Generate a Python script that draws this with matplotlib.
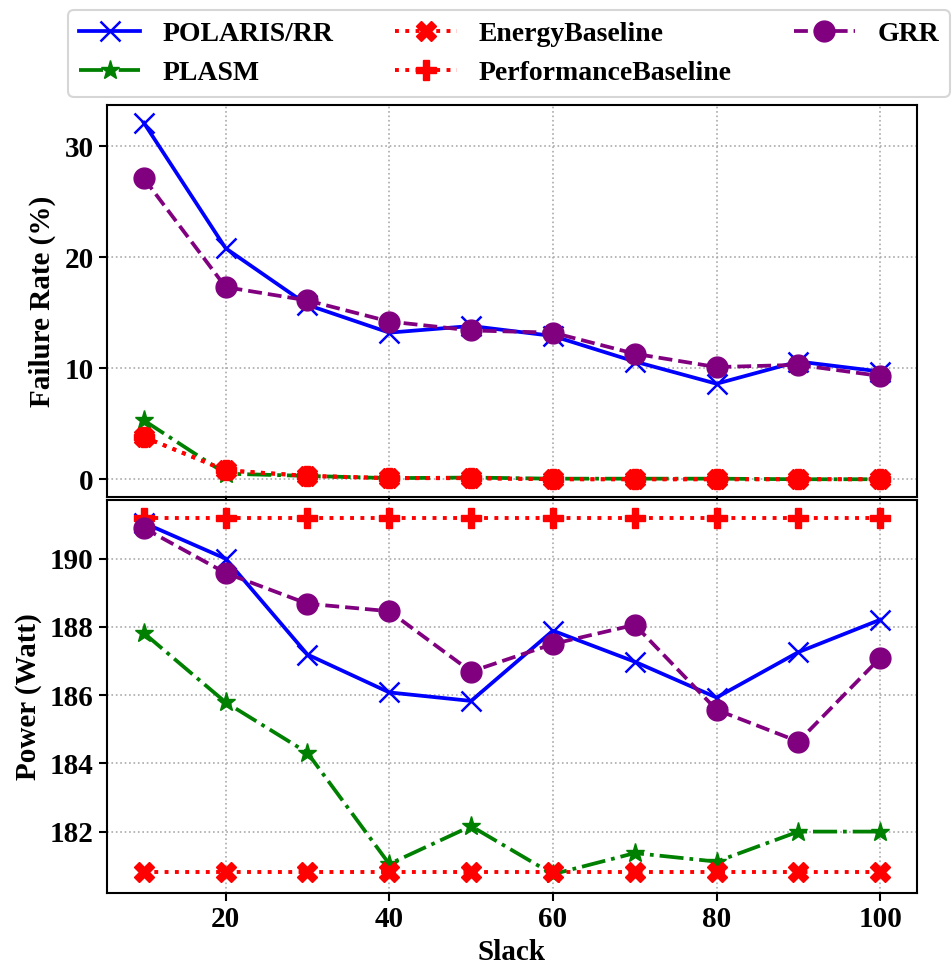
import matplotlib
matplotlib.use("Agg")
import matplotlib.pyplot as plt

plt.rcParams['font.family'] = ['Liberation Serif', 'DejaVu Serif']
plt.rcParams['font.weight'] = 'bold'

slack = [10, 20, 30, 40, 50, 60, 70, 80, 90, 100]

fail_polaris = [32.1, 20.8, 15.7, 13.2, 13.8, 12.9, 10.6, 8.6, 10.6, 9.7]
fail_plasm = [5.3, 0.5, 0.3, 0.1, 0.15, 0.05, 0.05, 0.05, 0.0, 0.0]
fail_energy = [3.8, 0.8, 0.3, 0.1, 0.1, 0.0, 0.0, 0.0, 0.0, 0.0]
fail_perf = [3.8, 0.8, 0.3, 0.1, 0.1, 0.0, 0.0, 0.0, 0.0, 0.0]
fail_grr = [27.1, 17.3, 16.1, 14.2, 13.4, 13.2, 11.3, 10.1, 10.3, 9.3]

pow_polaris = [191.05, 190.0, 187.19, 186.08, 185.83, 187.89, 186.98, 185.93, 187.26, 188.21]
pow_plasm = [187.82, 185.79, 184.31, 181.05, 182.16, 180.75, 181.37, 181.12, 182.0, 182.0]
pow_energy = [180.82] * 10
pow_perf = [191.2] * 10
pow_grr = [190.9, 189.58, 188.68, 188.46, 186.69, 187.5, 188.06, 185.57, 184.64, 187.09]

labels = ['POLARIS/RR', 'PLASM', 'EnergyBaseline', 'PerformanceBaseline', 'GRR']

W, H = 953, 973
fig = plt.figure(figsize=(W / 100, H / 100), dpi=100)
left, right = 107 / W, 917 / W
ax1 = fig.add_axes([left, 1 - 497 / H, right - left, (497 - 105) / H])
ax2 = fig.add_axes([left, 1 - 893 / H, right - left, (893 - 500) / H])

styles = [
    dict(color='blue', linestyle='-', marker='x', markersize=15, markeredgewidth=1.8, linewidth=2.7),
    dict(color='green', linestyle='-.', marker='*', markersize=14, linewidth=2.7),
    dict(color='red', linestyle=':', marker='X', markersize=15, linewidth=2.8),
    dict(color='red', linestyle=':', marker='P', markersize=15, linewidth=2.8),
    dict(color='purple', linestyle='--', marker='o', markersize=15, linewidth=2.7),
]

top_series = [fail_polaris, fail_plasm, fail_energy, fail_perf, fail_grr]
bot_series = [pow_polaris, pow_plasm, pow_energy, pow_perf, pow_grr]

handles = []
for ys, st, lb in zip(top_series, styles, labels):
    h, = ax1.plot(slack, ys, label=lb, **st)
    handles.append(h)
for ys, st, lb in zip(bot_series, styles, labels):
    ax2.plot(slack, ys, label=lb, **st)

for ax in (ax1, ax2):
    ax.grid(True, linestyle=':', color='#aaaaaa', linewidth=1.2)
    ax.set_xlim(5.5, 104.5)
    ax.tick_params(axis='both', labelsize=21, length=6, width=1.5, direction='out')
    for sp in ax.spines.values():
        sp.set_linewidth(1.5)

ax1.set_ylim(-1.6, 33.7)
ax1.set_yticks([0, 10, 20, 30])
ax1.set_xticks([20, 40, 60, 80, 100])
ax1.tick_params(axis='x', labelbottom=False)
ax1.set_ylabel('Failure Rate (%)', fontsize=21, fontweight='bold', labelpad=6)

ax2.set_ylim(180.2, 191.72)
ax2.set_yticks([182, 184, 186, 188, 190])
ax2.set_xticks([20, 40, 60, 80, 100])
ax2.set_ylabel('Power (Watt)', fontsize=21, fontweight='bold', labelpad=6)
ax2.set_xlabel('Slack', fontsize=21, fontweight='bold', labelpad=4)
for lab in ax1.get_yticklabels() + ax2.get_yticklabels() + ax2.get_xticklabels():
    lab.set_fontweight('bold')

leg = fig.legend(handles, labels, loc='lower left', ncol=3,
                 bbox_to_anchor=(68 / W, 1 - 97 / H, (950 - 68) / W, 92 / H),
                 mode='expand', borderaxespad=0, frameon=True,
                 prop={'weight': 'bold', 'size': 20}, handlelength=2.2,
                 fancybox=True, edgecolor='#cccccc', labelspacing=0.5)
leg.get_frame().set_linewidth(1.5)

fig.savefig('out.png', dpi=100)
